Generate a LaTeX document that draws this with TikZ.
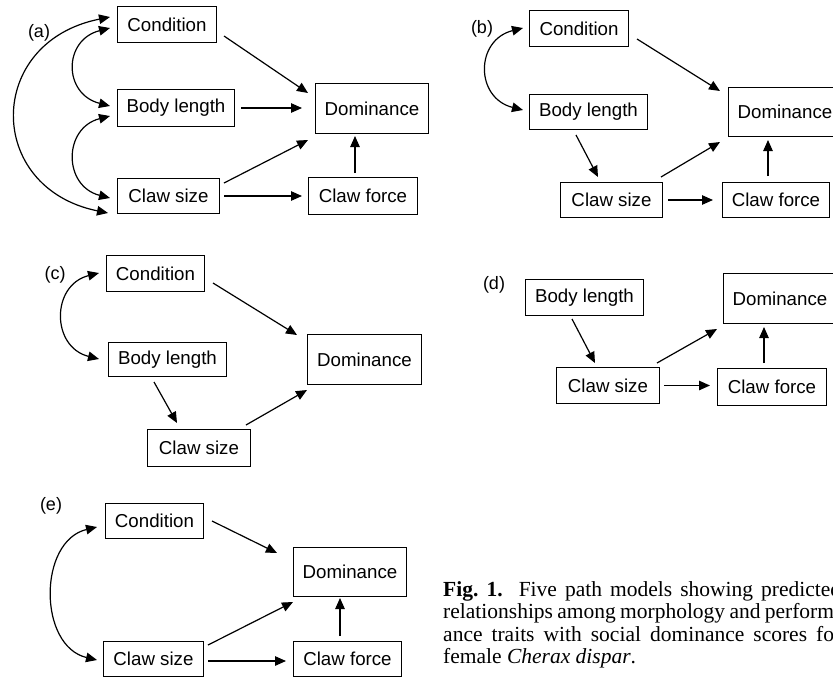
\documentclass[tikz,border=0pt]{standalone}
\usepackage{fontspec}
\setmainfont{Liberation Serif}
\newfontfamily\diasans{Liberation Sans}
\usetikzlibrary{arrows.meta}
\begin{document}
\begin{tikzpicture}[x=1pt,y=-1pt,
  box/.style={draw, line width=1.8pt, inner sep=0pt, font=\diasans\fontsize{18.7}{22}\selectfont},
  arr/.style={line width=1.2pt, -{Triangle[length=11pt,width=9.5pt]}},
  dbl/.style={line width=1.2pt, {Triangle[length=11pt,width=9.5pt]}-{Triangle[length=11pt,width=9.5pt]}},
  lab/.style={font=\diasans\fontsize{18}{22}\selectfont, inner sep=0pt}]
\clip (0,0) rectangle (833,678);
\fill[white] (0,0) rectangle (833,678);

% ---------- (a)
\node[lab] (labA) at (39,33) {(a)};
\node[box, minimum width=99pt, minimum height=36pt] (aCond) at (167,24.5) {Condition};
\node[box, minimum width=117pt, minimum height=37pt] (aBody) at (176,108) {Body length};
\node[box, minimum width=102pt, minimum height=35pt] (aClaw) at (168.5,196) {Claw size};
\node[box, minimum width=113pt, minimum height=50pt] (aDom) at (372,108.5) {Dominance};
\node[box, minimum width=109pt, minimum height=37pt] (aForce) at (363,196) {Claw force};
\draw[arr] ([shift={(57,11.5)}]aCond.center) -- ([shift={(-64,-15.5)}]aDom.center);
\draw[arr] ([shift={(65,0)}]aBody.center) -- ([shift={(-70,-0.5)}]aDom.center);
\draw[arr] ([shift={(55.5,-13)}]aClaw.center) -- ([shift={(-64,31.5)}]aDom.center);
\draw[arr] ([shift={(55.5,0)}]aClaw.center) -- ([shift={(-61,0)}]aForce.center);
\draw[arr] ([shift={(-8,-23)}]aForce.center) -- ([shift={(-17,27.5)}]aDom.center);
\draw[dbl] ([shift={(-57,3.5)}]aCond.center) .. controls +(-47,12) and +(-47,-12) .. ([shift={(-66,-2)}]aBody.center);
\draw[dbl] ([shift={(-66,8)}]aBody.center) .. controls +(-47,12) and +(-47,-12) .. ([shift={(-58.5,2)}]aClaw.center);
\draw[dbl] ([shift={(-57,-7.5)}]aCond.center) .. controls +(-125,25) and +(-123,-25) .. ([shift={(-60.5,17)}]aClaw.center);

% ---------- (b)
\node[lab] (labB) at (482,29) {(b)};
\node[box, minimum width=99pt, minimum height=36pt] (bCond) at (579,28.5) {Condition};
\node[box, minimum width=118pt, minimum height=35pt] (bBody) at (588.5,112) {Body length};
\node[box, minimum width=102pt, minimum height=35pt] (bClaw) at (611.5,200) {Claw size};
\node[box, minimum width=113pt, minimum height=49pt] (bDom) at (785,112) {Dominance};
\node[box, minimum width=107pt, minimum height=35pt] (bForce) at (776,200) {Claw force};
\draw[arr] ([shift={(58,10.5)}]bCond.center) -- ([shift={(-65,-21)}]bDom.center);
\draw[arr] ([shift={(-12.5,23)}]bBody.center) -- ([shift={(-13.5,-23)}]bClaw.center);
\draw[arr] ([shift={(49.5,-23)}]bClaw.center) -- ([shift={(-65,30)}]bDom.center);
\draw[arr] ([shift={(56.5,0)}]bClaw.center) -- ([shift={(-63,0)}]bForce.center);
\draw[arr] ([shift={(-8,-24)}]bForce.center) -- ([shift={(-17,28)}]bDom.center);
\draw[dbl] ([shift={(-56,-0.5)}]bCond.center) .. controls +(-48,12) and +(-48,-12) .. ([shift={(-65.5,-2)}]bBody.center);

% ---------- (c)
\node[lab] (labC) at (55,275) {(c)};
\node[box, minimum width=98pt, minimum height=36pt] (cCond) at (155.5,273.5) {Condition};
\node[box, minimum width=118pt, minimum height=34pt] (cBody) at (167.5,359.5) {Body length};
\node[box, minimum width=103pt, minimum height=37pt] (cClaw) at (199,448) {Claw size};
\node[box, minimum width=114pt, minimum height=50pt] (cDom) at (364.5,359.5) {Dominance};
\draw[arr] ([shift={(57.5,9.5)}]cCond.center) -- ([shift={(-67.5,-24.5)}]cDom.center);
\draw[arr] ([shift={(-13.5,22.5)}]cBody.center) -- ([shift={(-22,-25)}]cClaw.center);
\draw[arr] ([shift={(47,-23)}]cClaw.center) -- ([shift={(-57.5,30.5)}]cDom.center);
\draw[dbl] ([shift={(-56.5,-0.5)}]cCond.center) .. controls +(-48,12) and +(-48,-12) .. ([shift={(-68.5,-0.5)}]cBody.center);

% ---------- (d)
\node[lab] (labD) at (494,285) {(d)};
\node[box, minimum width=118pt, minimum height=36pt] (dBody) at (584.5,297.5) {Body length};
\node[box, minimum width=113pt, minimum height=50pt] (dDom) at (780,298.5) {Dominance};
\node[box, minimum width=103pt, minimum height=36pt] (dClaw) at (608,385.5) {Claw size};
\node[box, minimum width=109pt, minimum height=37pt] (dForce) at (772,387) {Claw force};
\draw[arr] ([shift={(-12.5,21.5)}]dBody.center) -- ([shift={(-13,-22.5)}]dClaw.center);
\draw[arr] ([shift={(49,-22.5)}]dClaw.center) -- ([shift={(-63,30.5)}]dDom.center);
\draw[arr] ([shift={(56,0)}]dClaw.center) -- ([shift={(-62,-1.5)}]dForce.center);
\draw[arr] ([shift={(-8,-24)}]dForce.center) -- ([shift={(-16,28.5)}]dDom.center);

% ---------- (e)
\node[lab] (labE) at (51,506) {(e)};
\node[box, minimum width=98pt, minimum height=35pt] (eCond) at (154.5,521) {Condition};
\node[box, minimum width=113pt, minimum height=49pt] (eDom) at (350,572) {Dominance};
\node[box, minimum width=100pt, minimum height=35pt] (eClaw) at (153.5,659) {Claw size};
\node[box, minimum width=108pt, minimum height=35pt] (eForce) at (347.5,659) {Claw force};
\draw[arr] ([shift={(57.5,0)}]eCond.center) -- ([shift={(-73,-19)}]eDom.center);
\draw[arr] ([shift={(54.5,-14)}]eClaw.center) -- ([shift={(-57,30)}]eDom.center);
\draw[arr] ([shift={(54.5,2)}]eClaw.center) -- ([shift={(-61.5,2)}]eForce.center);
\draw[arr] ([shift={(-7.5,-23)}]eForce.center) -- ([shift={(-10,26)}]eDom.center);
\draw[dbl] ([shift={(-57.5,6)}]eCond.center) .. controls +(-59,14) and +(-59,-14) .. ([shift={(-56.5,1)}]eClaw.center);

% ---------- caption
\node[anchor=north west, inner sep=0pt, text width=398pt, align=justify,
      font=\fontsize{21.5}{22.5}\selectfont] (cap) at (443,581)
  {\tolerance=10000\hyphenpenalty=10000\textbf{Fig.~1.}\ \ Five path models showing predicted\linebreak
   relationships among morphology and perform-\linebreak
   ance traits with social dominance scores for\linebreak
   female \textit{Cherax dispar}.};
\end{tikzpicture}
\end{document}
